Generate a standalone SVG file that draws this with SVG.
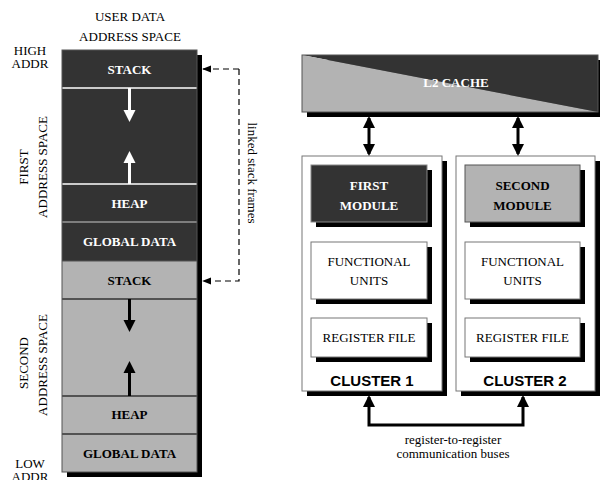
<svg xmlns="http://www.w3.org/2000/svg" width="600" height="480" viewBox="0 0 600 480">
<style>
.t{font-family:"Liberation Serif","Times New Roman",serif;font-size:13px;text-anchor:middle;fill:#000}
.b{font-family:"Liberation Serif","Times New Roman",serif;font-size:13px;font-weight:bold;text-anchor:middle}
.s{font-family:"Liberation Sans",Arial,sans-serif;font-size:15px;font-weight:bold;text-anchor:middle;fill:#000}
.dark{fill:#333}
.gray{fill:#b3b3b3}
.sh{fill:#000}
.box{fill:#fff;stroke:#777;stroke-width:1}
.con{fill:none;stroke:#000;stroke-width:3}
</style>
<defs>
<marker id="ah" viewBox="0 0 12 12" refX="10" refY="6" markerWidth="4" markerHeight="4" orient="auto-start-reverse" markerUnits="strokeWidth">
<path d="M0,0 L12,6 L0,12 z" fill="#000"/>
</marker>
<marker id="dh" viewBox="0 0 10 10" refX="9" refY="5" markerWidth="9" markerHeight="9" orient="auto" markerUnits="userSpaceOnUse">
<path d="M0,1 L10,5 L0,9 z" fill="#000"/>
</marker>
</defs>

<g id="labels">
<text class="t" x="130" y="21">USER DATA</text>
<text class="t" x="130" y="41">ADDRESS SPACE</text>
<text class="t" x="30" y="55">HIGH</text>
<text class="t" x="30" y="68">ADDR</text>
<text class="t" x="30" y="468">LOW</text>
<text class="t" x="30" y="481">ADDR</text>
<text class="t" transform="translate(28,167) rotate(-90)">FIRST</text>
<text class="t" transform="translate(47,167) rotate(-90)">ADDRESS SPACE</text>
<text class="t" transform="translate(28,363) rotate(-90)">SECOND</text>
<text class="t" transform="translate(47,365) rotate(-90)">ADDRESS SPACE</text>
<text class="t" transform="translate(248,173) rotate(90)">linked stack frames</text>
<text class="t" x="453" y="444">register-to-register</text>
<text class="t" x="453" y="458">communication buses</text>
</g>

<g id="memory">
<rect class="sh" x="67" y="55" width="135" height="422"/>
<rect class="dark" x="62" y="50" width="135" height="211"/>
<rect class="gray" x="62" y="261" width="135" height="211"/>
<line x1="62" y1="88" x2="197" y2="88" stroke="#fff" stroke-width="1.5"/>
<line x1="62" y1="184" x2="197" y2="184" stroke="#fff" stroke-width="1.5"/>
<line x1="62" y1="222" x2="197" y2="222" stroke="#999" stroke-width="1.5"/>
<line x1="62" y1="299" x2="197" y2="299" stroke="#333" stroke-width="1.5"/>
<line x1="62" y1="396" x2="197" y2="396" stroke="#333" stroke-width="1.5"/>
<line x1="62" y1="434" x2="197" y2="434" stroke="#333" stroke-width="1.5"/>
<line x1="62" y1="261" x2="197" y2="261" stroke="#555" stroke-width="1"/>
<rect x="62" y="50" width="135" height="422" fill="none" stroke="#555" stroke-width="1"/>
<text class="b" x="129.5" y="74" fill="#fff">STACK</text>
<text class="b" x="129.5" y="208" fill="#fff">HEAP</text>
<text class="b" x="129.5" y="246" fill="#fff">GLOBAL DATA</text>
<text class="b" x="129.5" y="285" fill="#000">STACK</text>
<text class="b" x="129.5" y="419" fill="#000">HEAP</text>
<text class="b" x="129.5" y="458" fill="#000">GLOBAL DATA</text>
<line x1="129.5" y1="88" x2="129.5" y2="112" stroke="#fff" stroke-width="3"/>
<path d="M123.5,110 L135.5,110 L129.5,122 z" fill="#fff"/>
<line x1="129.5" y1="184" x2="129.5" y2="160" stroke="#fff" stroke-width="3"/>
<path d="M123.5,163 L135.5,163 L129.5,151 z" fill="#fff"/>
<line x1="129.5" y1="299" x2="129.5" y2="322" stroke="#000" stroke-width="3"/>
<path d="M123.5,320 L135.5,320 L129.5,332 z" fill="#000"/>
<line x1="129.5" y1="396" x2="129.5" y2="370" stroke="#000" stroke-width="3"/>
<path d="M123.5,373 L135.5,373 L129.5,361 z" fill="#000"/>
</g>

<g id="l2cache">
<rect class="sh" x="307" y="60" width="293" height="57"/>
<polygon points="302,55 598,55 598,112" fill="#333"/>
<polygon points="302,55 598,112 302,112" fill="#b3b3b3"/>
<rect x="302" y="55" width="296" height="57" fill="none" stroke="#555" stroke-width="1"/>
<text class="b" x="456" y="87" fill="#fff">L2 CACHE</text>
</g>

<g id="cluster1">
<rect class="sh" x="307" y="161" width="140" height="235"/>
<rect class="box" x="302" y="156" width="140" height="235"/>
<text class="s" x="372" y="386">CLUSTER 1</text>
</g>
<g id="module1">
<rect class="sh" x="316" y="170" width="116" height="57"/>
<rect x="311" y="165" width="116" height="57" fill="#333" stroke="#888" stroke-width="1"/>
<text class="b" x="369" y="190" fill="#fff">FIRST</text>
<text class="b" x="369" y="210" fill="#fff">MODULE</text>
</g>
<g id="fu1">
<rect class="sh" x="316" y="247" width="116" height="57"/>
<rect class="box" x="311" y="242" width="116" height="57"/>
<text class="t" x="369" y="266">FUNCTIONAL</text>
<text class="t" x="369" y="285">UNITS</text>
</g>
<g id="rf1">
<rect class="sh" x="316" y="323" width="116" height="39"/>
<rect class="box" x="311" y="318" width="116" height="39"/>
<text class="t" x="369" y="342">REGISTER FILE</text>
</g>

<g id="cluster2">
<rect class="sh" x="461" y="161" width="139" height="235"/>
<rect class="box" x="456" y="156" width="139" height="235"/>
<text class="s" x="525" y="386">CLUSTER 2</text>
</g>
<g id="module2">
<rect class="sh" x="470" y="170" width="115" height="57"/>
<rect x="465" y="165" width="115" height="57" fill="#b3b3b3" stroke="#555" stroke-width="1"/>
<text class="b" x="522.5" y="190" fill="#000">SECOND</text>
<text class="b" x="522.5" y="210" fill="#000">MODULE</text>
</g>
<g id="fu2">
<rect class="sh" x="470" y="247" width="115" height="57"/>
<rect class="box" x="465" y="242" width="115" height="57"/>
<text class="t" x="522.5" y="266">FUNCTIONAL</text>
<text class="t" x="522.5" y="285">UNITS</text>
</g>
<g id="rf2">
<rect class="sh" x="470" y="323" width="115" height="39"/>
<rect class="box" x="465" y="318" width="115" height="39"/>
<text class="t" x="522.5" y="342">REGISTER FILE</text>
</g>

<g id="connectors">
<line class="con" x1="369" y1="118" x2="369" y2="154" marker-start="url(#ah)" marker-end="url(#ah)"/>
<line class="con" x1="518" y1="118" x2="518" y2="154" marker-start="url(#ah)" marker-end="url(#ah)"/>
<polyline class="con" points="369,397 369,425 523,425 523,397" marker-start="url(#ah)" marker-end="url(#ah)"/>
<polyline points="239,69 239,281 203,281" fill="none" stroke="#000" stroke-width="1.2" stroke-dasharray="6,4" marker-end="url(#dh)"/>
<line x1="239" y1="69" x2="203" y2="69" stroke="#000" stroke-width="1.2" stroke-dasharray="6,4" marker-end="url(#dh)"/>
</g>
</svg>
